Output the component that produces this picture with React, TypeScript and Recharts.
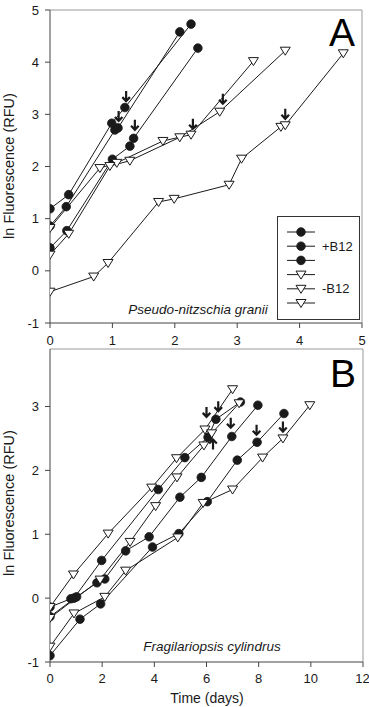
import { ComposedChart, Line, XAxis, YAxis, ReferenceLine } from 'recharts';

// panel A: Pseudo-nitzschia granii, [day, ln RFU]
const A_PLUS_1 = [[0, 1.19], [0.3, 1.46], [0.99, 2.83], [1.2, 3.13], [2.26, 4.73]];
const A_PLUS_2 = [[0, 0.86], [0.26, 1.23], [1.04, 2.7], [1.09, 2.74], [2.08, 4.58]];
const A_PLUS_3 = [[0, 0.44], [0.27, 0.77], [1.0, 2.14], [1.28, 2.39], [1.34, 2.54], [2.37, 4.27]];
const A_MINUS_1 = [[0, 0.82], [0.8, 1.97], [1.07, 2.07], [1.81, 2.49], [2.26, 2.61], [3.26, 4.02]];
const A_MINUS_2 = [[0, 0.31], [0.3, 0.71], [0.96, 2.01], [1.28, 2.11], [2.08, 2.56], [2.72, 3.05], [3.77, 4.22]];
const A_MINUS_3 = [[0, -0.4], [0.7, -0.11], [0.93, 0.15], [1.74, 1.32], [1.99, 1.38], [2.87, 1.65], [3.07, 2.15], [3.7, 2.76], [3.77, 2.79], [4.7, 4.17]];
const A_ARROWS = [[1.22, 3.33], [1.1, 2.95], [1.36, 2.78], [2.29, 2.8], [2.77, 3.28], [3.77, 2.99]];

// panel B: Fragilariopsis cylindrus
const B_PLUS_1 = [[0, -0.14], [0.8, -0.01], [0.92, 0.0], [1.98, 0.59], [4.15, 1.7], [5.17, 2.2], [6.06, 2.52], [6.36, 2.8], [7.3, 3.07]];
const B_PLUS_2 = [[0, -0.29], [1.02, 0.02], [1.8, 0.24], [2.1, 0.3], [2.9, 0.74], [3.8, 0.96], [4.98, 1.58], [5.8, 1.89], [6.97, 2.53], [7.97, 3.02]];
const B_PLUS_3 = [[0, -0.9], [1.15, -0.33], [1.94, -0.09], [3.93, 0.8], [4.94, 1.01], [6.03, 1.51], [7.18, 2.16], [7.94, 2.44], [8.97, 2.89]];
const B_MINUS_1 = [[0, -0.14], [0.9, 0.37], [2.23, 1.01], [3.9, 1.73], [4.85, 2.19], [5.94, 2.64], [7.0, 3.27]];
const B_MINUS_2 = [[0, -0.31], [1.92, 0.29], [3.07, 0.88], [4.05, 1.44], [4.87, 1.89], [5.9, 2.39], [6.2, 2.58], [7.25, 3.05]];
const B_MINUS_3 = [[0, -0.76], [0.92, -0.24], [2.1, 0.02], [2.9, 0.43], [4.9, 0.95], [5.87, 1.49], [7.0, 1.7], [8.15, 2.2], [8.93, 2.5], [9.96, 3.02]];
const B_ARROWS_DOWN = [[6.0, 2.9], [6.45, 2.99], [6.93, 2.73], [7.92, 2.62], [8.93, 2.67]];
const B_ARROWS_UP = [[6.25, 2.42]];

const A_X_TICKS = [0, 1, 2, 3, 4, 5];
const A_Y_TICKS = [-1, 0, 1, 2, 3, 4, 5];
const B_X_TICKS = [0, 2, 4, 6, 8, 10, 12];
const B_Y_TICKS = [-1, 0, 1, 2, 3];

const FONT = '"Liberation Sans", Arial, sans-serif';
const INK = '#1a1a1a';

const toPts = (arr: number[][]) => arr.map(([x, y]) => ({ x, y }));

const circleDot = (p: any) => (
  <circle key={`c${p.index}-${p.cx}`} cx={p.cx} cy={p.cy} r={4.3} fill={INK} stroke={INK} strokeWidth={0.8} />
);
const triDot = (p: any) => (
  <path
    key={`t${p.index}-${p.cx}`}
    d={`M${p.cx - 5},${p.cy - 3.5}L${p.cx + 5},${p.cy - 3.5}L${p.cx},${p.cy + 4.5}Z`}
    fill="#fff"
    stroke={INK}
    strokeWidth={1}
  />
);
const arrowDown = (p: any) => (
  <path
    key={`ad${p.index}-${p.cx}`}
    d={`M${p.cx},${p.cy - 6}L${p.cx},${p.cy + 4}M${p.cx - 3.8},${p.cy}L${p.cx},${p.cy + 4}L${p.cx + 3.8},${p.cy}`}
    fill="none"
    stroke={INK}
    strokeWidth={2.2}
  />
);
const arrowUp = (p: any) => (
  <path
    key={`au${p.index}-${p.cx}`}
    d={`M${p.cx},${p.cy + 6}L${p.cx},${p.cy - 4}M${p.cx - 3.8},${p.cy}L${p.cx},${p.cy - 4}L${p.cx + 3.8},${p.cy}`}
    fill="none"
    stroke={INK}
    strokeWidth={2.2}
  />
);

const tickStyle = { fill: INK, fontSize: 13, fontFamily: FONT };

function series(key: string, arr: number[][], filled: boolean) {
  return (
    <Line
      key={key}
      data={toPts(arr)}
      dataKey="y"
      stroke={INK}
      strokeWidth={1}
      dot={filled ? circleDot : triDot}
      activeDot={false}
      isAnimationActive={false}
    />
  );
}

function arrows(key: string, arr: number[][], shape: any) {
  return (
    <Line
      key={key}
      data={toPts(arr)}
      dataKey="y"
      stroke="none"
      dot={shape}
      activeDot={false}
      isAnimationActive={false}
    />
  );
}

function PanelA() {
  return (
    <ComposedChart width={369} height={350} margin={{ top: 10, right: 7, bottom: 7, left: 0 }}>
      <XAxis
        dataKey="x"
        type="number"
        domain={[0, 5]}
        ticks={A_X_TICKS}
        allowDataOverflow
        height={20}
        stroke="#444"
        tickSize={5}
        tickMargin={8}
        tick={tickStyle}
      />
      <YAxis
        type="number"
        domain={[-1, 5]}
        ticks={A_Y_TICKS}
        allowDataOverflow
        width={50}
        stroke="#444"
        tickSize={5}
        tickMargin={6}
        tick={tickStyle}
      />
      <ReferenceLine y={5} stroke="#999" />
      <ReferenceLine x={5} stroke="#999" />
      {series('ap1', A_PLUS_1, true)}
      {series('ap2', A_PLUS_2, true)}
      {series('ap3', A_PLUS_3, true)}
      {series('am1', A_MINUS_1, false)}
      {series('am2', A_MINUS_2, false)}
      {series('am3', A_MINUS_3, false)}
      {arrows('aa', A_ARROWS, arrowDown)}
    </ComposedChart>
  );
}

function PanelB() {
  return (
    <ComposedChart width={369} height={367} margin={{ top: 9, right: 6, bottom: 25, left: 0 }}>
      <XAxis
        dataKey="x"
        type="number"
        domain={[0, 12]}
        ticks={B_X_TICKS}
        allowDataOverflow
        height={20}
        stroke="#444"
        tickSize={5}
        tickMargin={7}
        tick={tickStyle}
      />
      <YAxis
        type="number"
        domain={[-1, 3.9]}
        ticks={B_Y_TICKS}
        allowDataOverflow
        width={50}
        stroke="#444"
        tickSize={5}
        tickMargin={6}
        tick={tickStyle}
      />
      <ReferenceLine y={3.9} stroke="#999" />
      <ReferenceLine x={12} stroke="#999" />
      {series('bp1', B_PLUS_1, true)}
      {series('bp2', B_PLUS_2, true)}
      {series('bp3', B_PLUS_3, true)}
      {series('bm1', B_MINUS_1, false)}
      {series('bm2', B_MINUS_2, false)}
      {series('bm3', B_MINUS_3, false)}
      {arrows('bad', B_ARROWS_DOWN, arrowDown)}
      {arrows('bau', B_ARROWS_UP, arrowUp)}
    </ComposedChart>
  );
}

// legend of panel A
const LEGEND_ROWS = [
  { filled: true, label: '' },
  { filled: true, label: '+B12' },
  { filled: true, label: '' },
  { filled: false, label: '' },
  { filled: false, label: '-B12' },
  { filled: false, label: '' },
];

function Overlay() {
  return (
    <svg width={369} height={707} style={{ position: 'absolute', left: 0, top: 0, pointerEvents: 'none' }}>
      <text x={342} y={46} fontSize={39} fontFamily={FONT} textAnchor="middle" fill="#000">A</text>
      <text x={343} y={387} fontSize={39} fontFamily={FONT} textAnchor="middle" fill="#000">B</text>
      <text x={198} y={314} fontSize={13.5} fontStyle="italic" fontFamily={FONT} textAnchor="middle" fill={INK}>
        Pseudo-nitzschia granii
      </text>
      <text x={212} y={651} fontSize={13.5} fontStyle="italic" fontFamily={FONT} textAnchor="middle" fill={INK}>
        Fragilariopsis cylindrus
      </text>
      <text
        transform="translate(14,166) rotate(-90)"
        fontSize={14.5}
        fontFamily={FONT}
        textAnchor="middle"
        fill={INK}
      >
        ln Fluorescence (RFU)
      </text>
      <text
        transform="translate(14,503) rotate(-90)"
        fontSize={14.5}
        fontFamily={FONT}
        textAnchor="middle"
        fill={INK}
      >
        ln Fluorescence (RFU)
      </text>
      <text x={207} y={703} fontSize={14} fontFamily={FONT} textAnchor="middle" fill={INK}>
        Time (days)
      </text>
      <rect x={277.5} y={216.5} width={82} height={103} fill="#fff" stroke="#333" strokeWidth={1} />
      {LEGEND_ROWS.map((r, i) => {
        const y = 232 + i * 14.2;
        return (
          <g key={i}>
            <line x1={287} x2={315} y1={y} y2={y} stroke={INK} strokeWidth={1} />
            {r.filled ? circleDot({ cx: 301, cy: y, index: i }) : triDot({ cx: 301, cy: y, index: i })}
            {r.label && (
              <text x={322} y={y + 4.5} fontSize={13} fontFamily={FONT} fill={INK}>
                {r.label}
              </text>
            )}
          </g>
        );
      })}
    </svg>
  );
}

export default function App() {
  return (
    <div style={{ position: 'absolute', left: 0, top: 0, width: 369, height: 707, background: '#fff', overflow: 'hidden' }}>
      <div style={{ position: 'absolute', left: 0, top: 0 }}>
        <PanelA />
      </div>
      <div style={{ position: 'absolute', left: 0, top: 340 }}>
        <PanelB />
      </div>
      <Overlay />
    </div>
  );
}
